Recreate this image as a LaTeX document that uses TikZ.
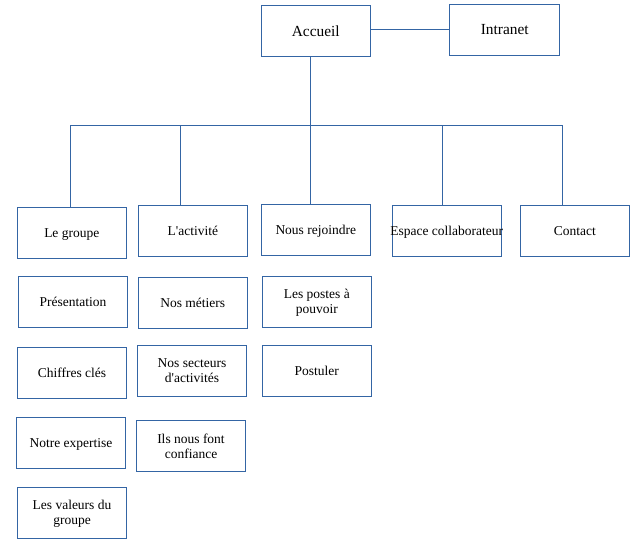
\documentclass[tikz,border=0pt]{standalone}
\usepackage{fontspec}
\setmainfont{Liberation Serif}
\definecolor{boxblue}{RGB}{52,101,164}
\tikzset{
  box/.style={draw=boxblue,line width=0.9pt,minimum width=109pt,minimum height=51pt,
    inner sep=0pt,text depth=0pt,align=center,font=\fontsize{13.5}{15}\selectfont},
  bigbox/.style={box,font=\fontsize{15.4}{17}\selectfont},
  link/.style={draw=boxblue,line width=0.9pt}
}
\begin{document}
\begin{tikzpicture}[x=1pt,y=-1pt]
    	\useasboundingbox (0,0) rectangle (635,559);

    	\node[bigbox] (accueil) at (315.8,30.8) {Accueil};
    	\node[bigbox,minimum width=110pt] (intranet) at (504.8,29.8) {Intranet};

    	\node[box] (groupe) at (71.8,232.8) {Le groupe};
    	\node[box] (activite) at (192.8,230.8) {L\textquotesingle activité};
    	\node[box] (rejoindre) at (315.8,229.8) {Nous rejoindre};
    	\node[box] (espace) at (446.8,230.8) {\makebox[100pt][c]{Espace collaborateur}};
    	\node[box] (contact) at (574.8,230.8) {Contact};

    	\node[box] (presentation) at (73,301.8) {Présentation};
    	\node[box] (chiffres) at (72,372.8) {Chiffres clés};
    	\node[box] (expertise) at (71,442.8) {Notre expertise};
    	\node[box] (valeurs) at (72,512.8) {Les valeurs du\\groupe};

    	\node[box] (metiers) at (192.8,302.8) {Nos métiers};
    	\node[box] (secteurs) at (192,370.8) {Nos secteurs\\d\textquotesingle activités};
    	\node[box] (confiance) at (191,445.8) {Ils nous font\\confiance};

    	\node[box] (postes) at (316.8,301.7) {Les postes à\\pouvoir};
    	\node[box] (postuler) at (316.8,370.8) {Postuler};

    	\coordinate (trunk) at (310.3,125.5);
    	\coordinate (d1) at (70,125.5);
    	\coordinate (d2) at (180.3,125.5);
    	\coordinate (d3) at (310.5,125.5);
    	\coordinate (d4) at (442,125.5);
    	\coordinate (d5) at (562.3,125.5);

    	\draw[link] (accueil.east |- intranet.west) -- (intranet.west);
    	\draw[link] (trunk |- accueil.south) -- (trunk);
    	\draw[link] (d1) -- (d5);
    	\draw[link] (d1) -- (d1 |- groupe.north);
    	\draw[link] (d2) -- (d2 |- activite.north);
    	\draw[link] (d3) -- (d3 |- rejoindre.north);
    	\draw[link] (d4) -- (d4 |- espace.north);
    	\draw[link] (d5) -- (d5 |- contact.north);
\end{tikzpicture}
\end{document}
